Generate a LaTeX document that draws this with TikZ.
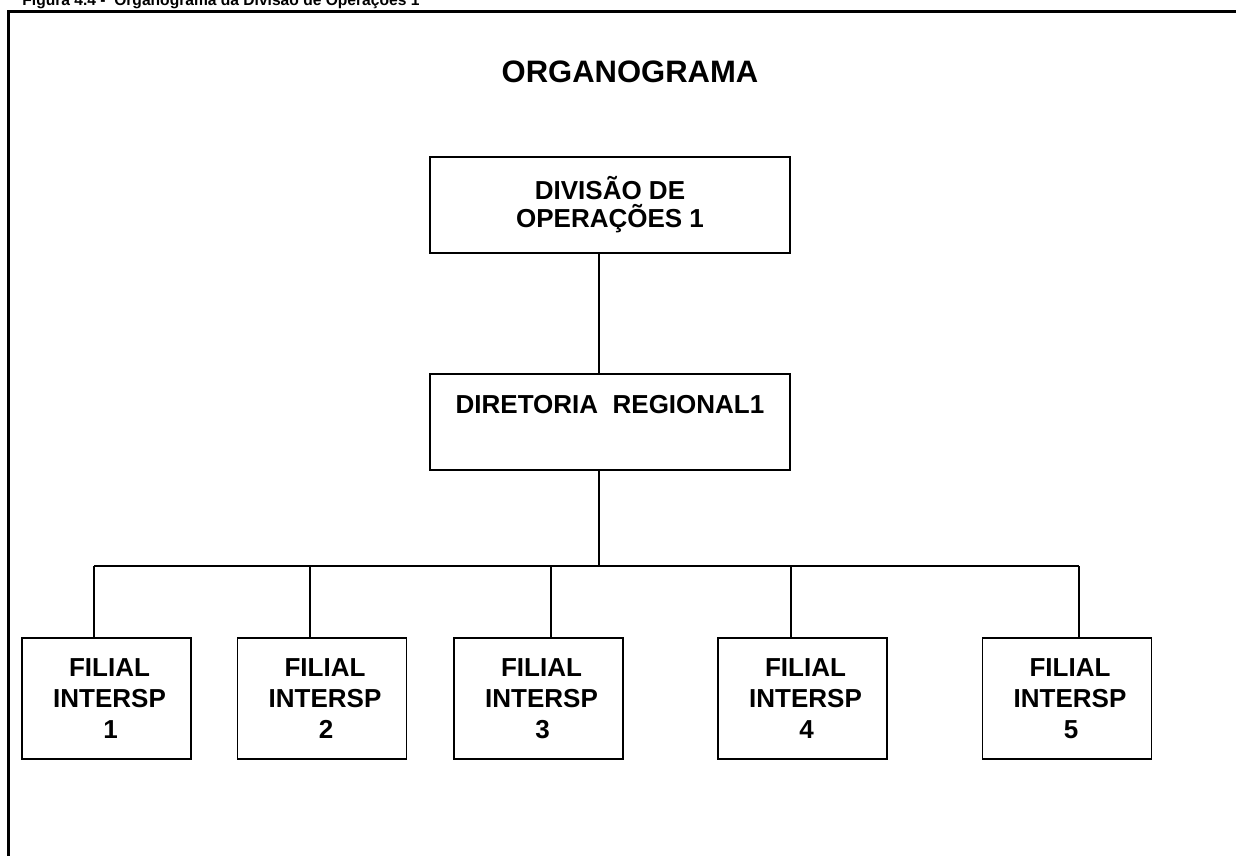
\documentclass[tikz,border=0pt]{standalone}
\usepackage{fontspec}
\setmainfont{Liberation Sans}

\tikzset{
  unitbox/.style = {draw, line width = 0.6pt, fill = white, minimum width = 180pt,
                    align = center, font = \bfseries\fontsize{13}{14}\selectfont},
  filialbox/.style = {draw, line width = 0.6pt, fill = white, minimum width = 84.5pt,
                      minimum height = 60.5pt, align = center,
                      font = \bfseries\fontsize{13}{15.5}\selectfont},
  link/.style = {line width = 0.6pt}
}

\begin{document}
\begin{tikzpicture}[x = 0.5pt, y = -0.5pt]
      \useasboundingbox (0, 0) rectangle (1236, 856);

      % legenda e moldura
      \node[anchor = base west, inner sep = 0,
            font = \bfseries\fontsize{7.8}{8}\selectfont] (legenda) at (22, 5.5)
           {Figura 4.4 -\ \ Organograma da Divisão de Operações 1};
      \draw[line width = 1.5pt] (1240, 12) -- (8, 12) -- (8, 860);

      \node[font = \bfseries\fontsize{15.5}{18}\selectfont] (titulo) at (630, 72) {ORGANOGRAMA};

      % caixas de cima
      \node[unitbox, minimum height = 48pt] (divisao) at (610, 205)
           {DIVISÃO DE\\OPERAÇÕES 1};
      \node[unitbox, inner sep = 0, text height = 19.5pt, text depth = 28.5pt]
           (diretoria) at (610, 422) {DIRETORIA\ \ REGIONAL1};

      % filiais
      \foreach \i/\x in {1/106.5, 2/322, 3/538.5, 4/802.5, 5/1067}
        \node[filialbox] (f\i) at (\x, 698.5)
             {\hspace*{3pt}FILIAL\\\hspace*{3pt}INTERSP\\\hspace*{4pt}\i};

      % ligacoes
      \coordinate (tronco) at (599, 566);
      \draw[link] (divisao.south -| tronco) -- (diretoria.north -| tronco);
      \draw[link] (diretoria.south -| tronco) -- (tronco);

      \foreach \i/\d in {1/94, 2/310, 3/551, 4/791, 5/1079}
        \coordinate (d\i) at (\d, 566);
      \draw[link] (d1) -- (d5);
      \foreach \i in {1, ..., 5}
        \draw[link] (d\i) -- (d\i |- f\i.north);
\end{tikzpicture}
\end{document}
